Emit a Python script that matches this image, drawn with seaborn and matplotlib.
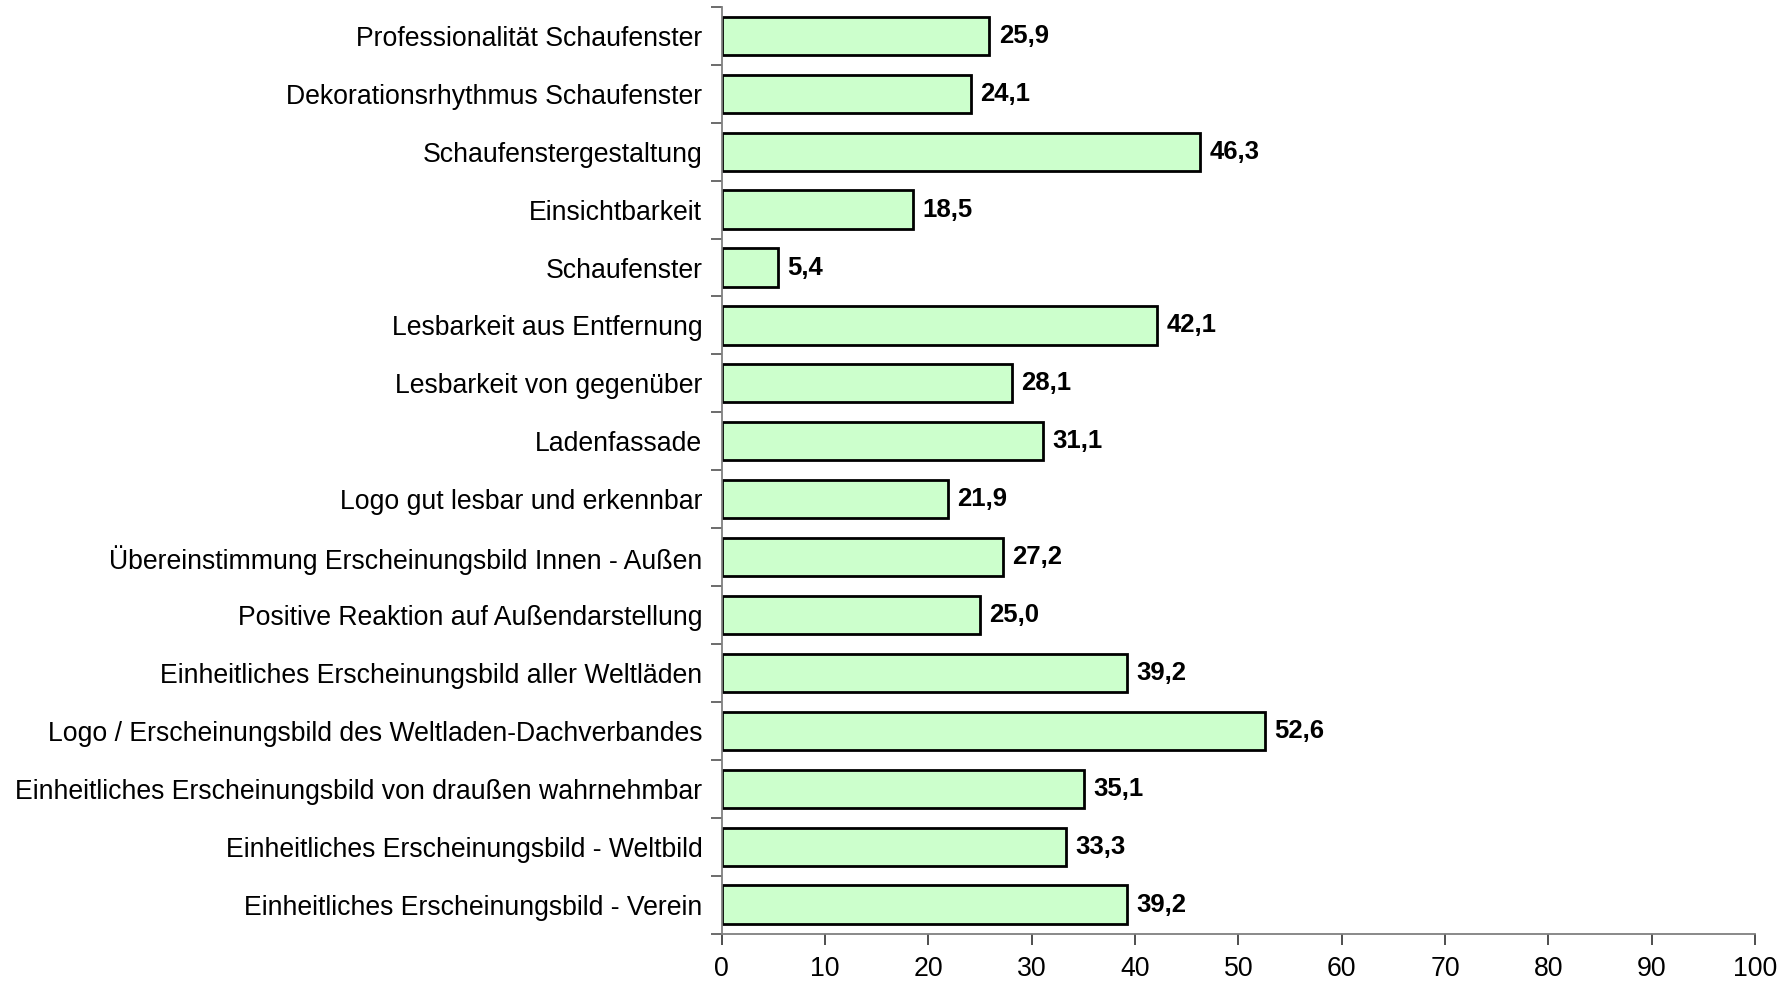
import numpy as np
import pandas as pd
import seaborn as sns
import matplotlib.pyplot as plt

# Kategorien (von oben nach unten) und Anteile in %
kategorien = [
    "Professionalität Schaufenster",
    "Dekorationsrhythmus Schaufenster",
    "Schaufenstergestaltung",
    "Einsichtbarkeit",
    "Schaufenster",
    "Lesbarkeit aus Entfernung",
    "Lesbarkeit von gegenüber",
    "Ladenfassade",
    "Logo gut lesbar und erkennbar",
    "Übereinstimmung Erscheinungsbild Innen - Außen",
    "Positive Reaktion auf Außendarstellung",
    "Einheitliches Erscheinungsbild aller Weltläden",
    "Logo / Erscheinungsbild des Weltladen-Dachverbandes",
    "Einheitliches Erscheinungsbild von draußen wahrnehmbar",
    "Einheitliches Erscheinungsbild - Weltbild",
    "Einheitliches Erscheinungsbild - Verein",
]
werte = [25.9, 24.1, 46.3, 18.5, 5.4, 42.1, 28.1, 31.1, 21.9, 27.2, 25.0, 39.2, 52.6, 35.1, 33.3, 39.2]
x_ticks = [0, 10, 20, 30, 40, 50, 60, 70, 80, 90, 100]

df = pd.DataFrame({"kategorie": kategorien, "wert": werte})

sns.set_style("white")
plt.rcParams['font.family'] = ['Liberation Sans', 'DejaVu Sans']
plt.rcParams['text.color'] = 'black'
plt.rcParams['xtick.color'] = 'black'
plt.rcParams['ytick.color'] = 'black'

fig = plt.figure(figsize=(17.91, 9.84), dpi=100)
ax = fig.add_axes([0.403, 0.0513, 0.577, 0.9417])

sns.barplot(data=df, x="wert", y="kategorie", orient="h", color="#CCFFCC",
            edgecolor="black", linewidth=2, width=0.66, saturation=1, ax=ax)

for i, v in enumerate(werte):
    ax.text(v + 0.9, i, f"{v:.1f}".replace(".", ","), va="center", ha="left",
            fontsize=18.5, fontweight="bold")

ax.set_xlim(0, 100)
ax.set_ylim(len(kategorien) - 0.5, -0.5)
ax.set_xticks(x_ticks)
ax.set_xlabel("")
ax.set_ylabel("")

# Excel-Stil: Striche zwischen den Kategorien
ax.set_yticks(np.arange(-0.5, len(kategorien), 1), minor=True)
ax.tick_params(axis="y", which="major", left=True, length=0, pad=14, labelsize=19.2)
ax.tick_params(axis="y", which="minor", left=True, length=8, width=1.3,
               color="#606060", direction="out")
ax.tick_params(axis="x", bottom=True, length=8, width=1.3, color="#404040",
               direction="out", pad=8, labelsize=19.2)

for s in ["top", "right"]:
    ax.spines[s].set_visible(False)
for s in ["left", "bottom"]:
    ax.spines[s].set_color("#808080")
    ax.spines[s].set_linewidth(1.3)

fig.savefig("out.png", dpi=100)
